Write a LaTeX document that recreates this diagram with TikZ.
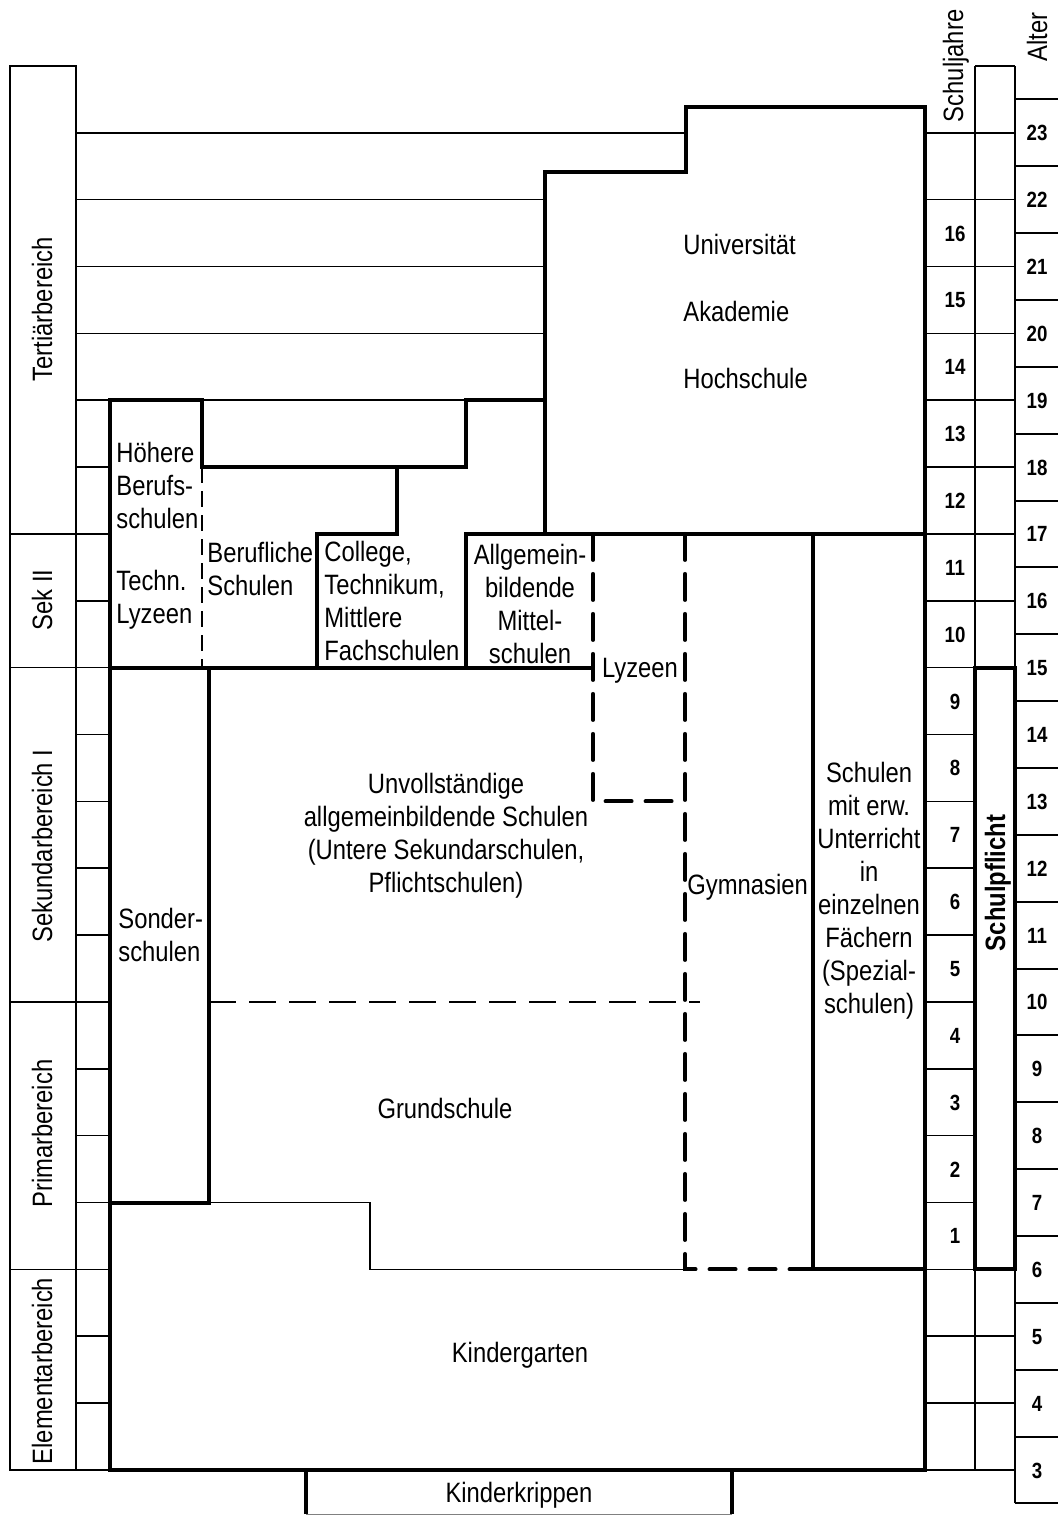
\documentclass[tikz,border=0pt]{standalone}
\usepackage{fontspec}
\setmainfont[FakeStretch=0.85]{Liberation Sans}
\newcommand{\lblsize}{\fontsize{14}{16.5}\selectfont}
\newcommand{\numsize}{\fontsize{11}{13}\selectfont\bfseries}

\begin{document}
\begin{tikzpicture}[x=0.5pt, y=33.43pt,
  rowline/.style={line width=0.8pt},
  boxline/.style={line width=0.6pt},
  wall/.style={line width=2pt},
  dashwall/.style={line width=2pt, line cap=round, dash pattern=on 13pt off 7pt},
  dashrow/.style={line width=0.8pt, dash pattern=on 13.5pt off 6.5pt},
  dashshort/.style={line width=0.8pt, dash pattern=on 8pt off 4pt},
  lbl/.style={font=\lblsize, inner sep=0pt, text height=10pt, text depth=0pt},
  blk/.style={font=\lblsize, inner sep=0pt},
  num/.style={font=\numsize, inner sep=0pt, text height=8pt, text depth=0pt}]
  \useasboundingbox (0,-0.673) rectangle (1058,21.986);

  % Bereiche links
  \foreach \lo/\hi in {0/3, 3/7, 7/12, 12/14, 14/21}
    \draw[boxline] (10,\lo) rectangle (76,\hi);
  \draw[rowline] (76,0) -- (76,21);
  \foreach \k in {0,...,15} \draw[rowline] (76,\k) -- (110,\k);
  \foreach \k in {16,...,19} \draw[rowline] (76,\k) -- (545,\k);
  \draw[rowline] (76,20) -- (686,20);

  % Spalten rechts
  \foreach \k in {0,...,20} \draw[rowline] (925,\k) -- (975,\k);
  \foreach \k in {0,1,2} \draw[rowline] (975,\k) -- (1015,\k);
  \foreach \k in {13,...,21} \draw[rowline] (975,\k) -- (1015,\k);
  \draw[rowline] (975,0) -- (975,21) (1015,-0.5) -- (1015,21);
  \foreach \k in {-0.5,0.5,...,20.5} \draw[line width=1pt] (1015,\k) -- (1058,\k);

  % Schulen
  \draw[dashshort] (202,15) -- (202,12);
  \draw[rowline] (209,4) -- (370,4) -- (370,3) -- (685,3);
  \draw[dashrow] (209,7) -- (700,7);
  \draw[dashwall] (593,14) -- (593,10) -- (685,10);
  \draw[dashwall] (685,14) -- (685,3) -- (813,3);
  \draw[wall] (110,0) -- (110,16) -- (202,16) -- (202,15) -- (466,15) -- (466,16)
    -- (545,16) -- (545,19.414) -- (686,19.414) -- (686,20.386) -- (925,20.386)
    -- (925,0) -- cycle;
  \draw[wall] (397,15) -- (397,14) -- (317,14) -- (317,12);
  \draw[wall] (466,12) -- (466,14) -- (925,14);
  \draw[wall] (545,14) -- (545,16);
  \draw[wall] (110,12) -- (593,12);
  \draw[wall] (110,4) -- (209,4) -- (209,12);
  \draw[wall] (813,14) -- (813,3) -- (925,3);
  \draw[wall] (975,3) rectangle (1015,12);
  \draw[wall] (306,-0.66) -- (306,0) (732,0) -- (732,-0.66);
  \draw[boxline, gray] (306,-0.66) -- (732,-0.66);

  % Beschriftung
  \node[lbl, rotate=90] (tert) at (42,17.36) {Tertiärbereich};
  \node[lbl, rotate=90] (sek2) at (42,13.01) {Sek II};
  \node[lbl, rotate=90] (sek1) at (42,9.33) {Sekundarbereich I};
  \node[lbl, rotate=90] (prim) at (42,5.03) {Primarbereich};
  \node[lbl, rotate=90] (elem) at (42,1.48) {Elementarbereich};
  \node[lbl, rotate=90] (sjhead) at (953,21.0) {Schuljahre};
  \node[lbl, rotate=90] (alhead) at (1037,21.43) {Alter};
  \node[lbl, rotate=90, font=\lblsize\bfseries] (pflicht) at (995,8.78) {Schulpflicht};

  \node[lbl, anchor=west] (uni) at (683,18.33) {Universität};
  \node[lbl, anchor=west] (akad) at (683,17.33) {Akademie};
  \node[lbl, anchor=west] (hoch) at (683,16.33) {Hochschule};
  \node[blk, anchor=west, align=left] (hbs) at (116,14.73) {Höhere\\Berufs-\\schulen};
  \node[blk, anchor=west, align=left] (tly) at (116,13.01) {Techn.\\Lyzeen};
  \node[blk, anchor=west, align=left] (bsch) at (207,13.48) {Berufliche\\Schulen};
  \node[blk, anchor=west, align=left] (coll) at (324,12.99) {College,\\Technikum,\\Mittlere\\Fachschulen};
  \node[blk, align=center] (amit) at (530,12.95) {Allgemein-\\bildende\\Mittel-\\schulen};
  \node[lbl] (lyz) at (640,12.0) {Lyzeen};
  \node[blk, align=center] (unv) at (446,9.48) {Unvollständige\\allgemeinbildende Schulen\\(Untere Sekundarschulen,\\Pflichtschulen)};
  \node[blk, anchor=west, align=left] (sond) at (118,8.0) {Sonder-\\schulen};
  \node[lbl, anchor=west] (gym) at (687,8.75) {Gymnasien};
  \node[blk, align=center] (spez) at (869,8.67) {Schulen\\mit erw.\\Unterricht\\in\\einzelnen\\Fächern\\(Spezial-\\schulen)};
  \node[lbl] (grund) at (445,5.41) {Grundschule};
  \node[lbl] (kiga) at (520,1.75) {Kindergarten};
  \node[lbl] (krip) at (519,-0.34) {Kinderkrippen};

  \foreach \n in {1,...,16} \node[num] (sj\n) at (955,{\n+2.5}) {\n};
  \foreach \a in {3,...,23} \node[num] (al\a) at (1037,{\a-3}) {\a};
\end{tikzpicture}
\end{document}
